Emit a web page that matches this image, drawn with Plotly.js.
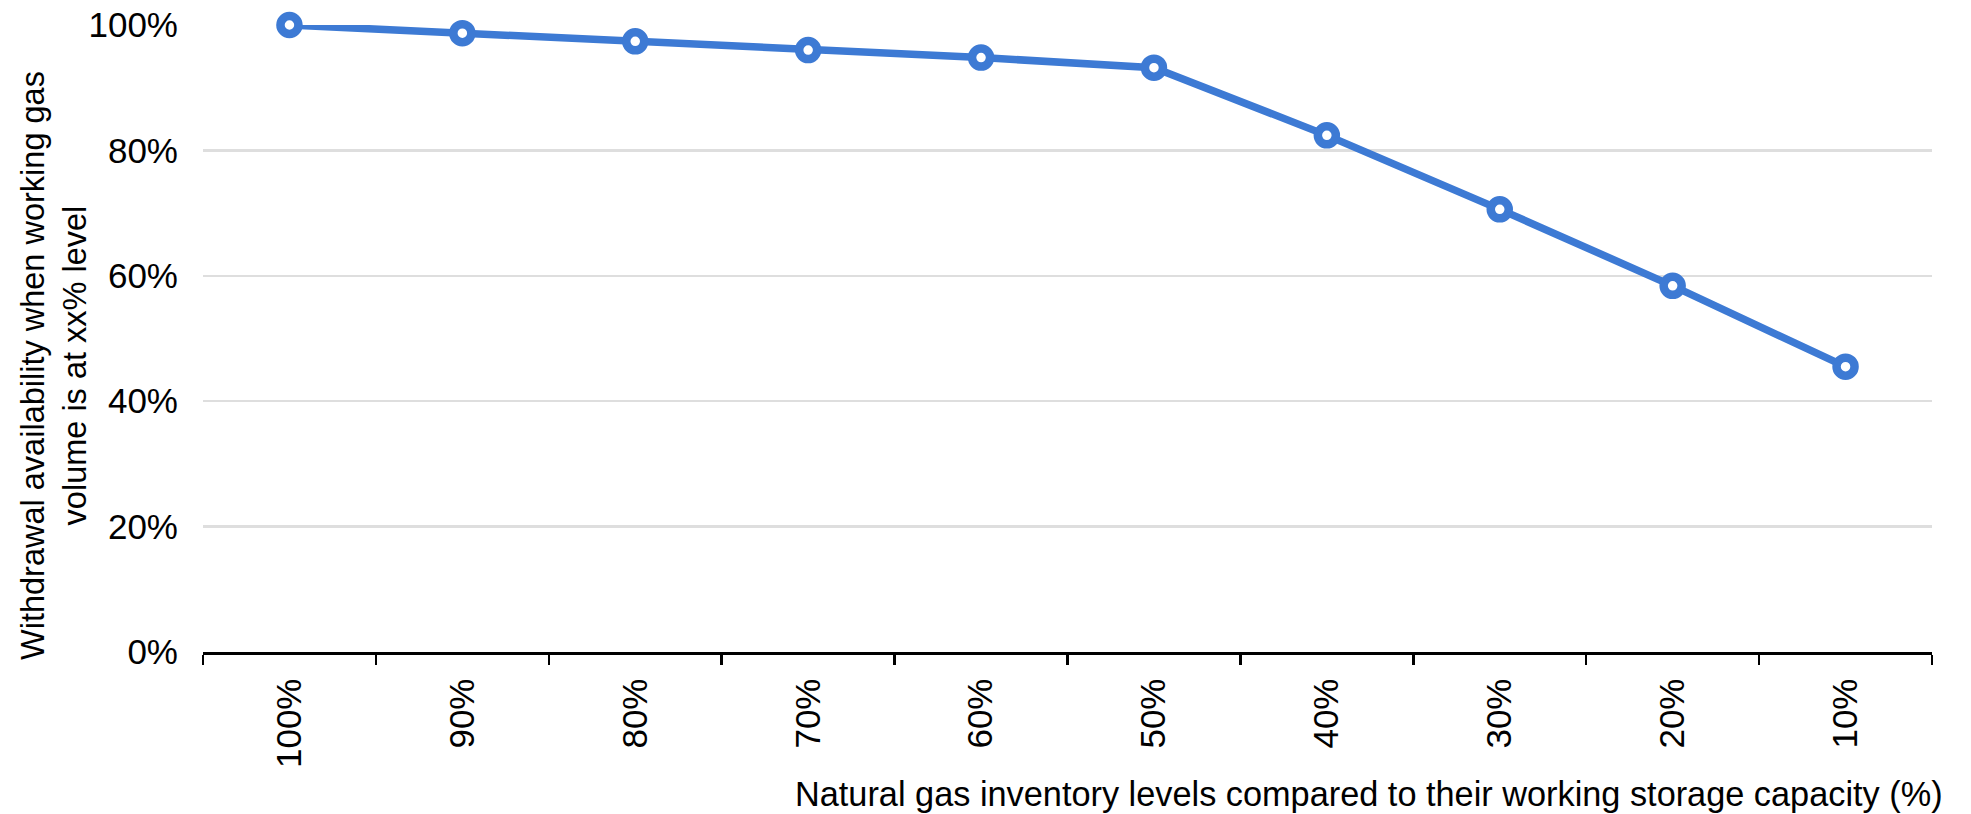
<!DOCTYPE html>
<html>
<head>
<meta charset="utf-8">
<script src="https://cdn.plot.ly/plotly-3.0.1.min.js"></script>
<style>
  html, body { margin: 0; padding: 0; background: #fff; }
  #chart { width: 1971px; height: 814px; }
</style>
</head>
<body>
<div id="chart"></div>
<script>
const inventoryLevels = ["100%", "90%", "80%", "70%", "60%", "50%", "40%", "30%", "20%", "10%"];
const withdrawalAvailability = [100, 98.7, 97.4, 96.0, 94.8, 93.2, 82.4, 70.6, 58.4, 45.5];
const yTickValues = [0, 20, 40, 60, 80, 100];
const yTitleText = "Withdrawal availability when working gas<br>volume is at xx% level";
const xTitleText = "Natural gas inventory levels compared to their working storage capacity (%)";

const blue = "#3d7ad4";
const fontFamily = "Liberation Sans, Arial, sans-serif";

const trace = {
  type: "scatter",
  mode: "lines+markers",
  x: inventoryLevels,
  y: withdrawalAvailability,
  line: { color: blue, width: 7.5 },
  marker: { symbol: "circle", size: 18, color: "#ffffff", line: { color: blue, width: 8.5 } },
  cliponaxis: false,
  hoverinfo: "skip"
};

const layout = {
  width: 1971,
  height: 814,
  margin: { l: 203, r: 39, t: 25, b: 162 },
  paper_bgcolor: "#ffffff",
  plot_bgcolor: "#ffffff",
  showlegend: false,
  font: { family: fontFamily, size: 34, color: "#000000" },
  xaxis: {
    type: "category",
    range: [-0.5, 9.5],
    showgrid: false,
    zeroline: false,
    showline: true,
    linecolor: "#000000",
    linewidth: 2.5,
    ticks: "outside",
    tickson: "boundaries",
    ticklen: 10,
    tickwidth: 2.5,
    tickcolor: "#000000",
    tickangle: -90,
    ticklabelstandoff: 10,
    tickfont: { family: fontFamily, size: 35, color: "#000000" },
    fixedrange: true
  },
  yaxis: {
    range: [0, 100],
    tickvals: yTickValues,
    ticktext: yTickValues.map(v => v + "%"),
    showgrid: true,
    gridcolor: "#dedede",
    gridwidth: 2.5,
    zeroline: false,
    showline: false,
    ticks: "",
    ticklabelstandoff: 24,
    tickfont: { family: fontFamily, size: 35, color: "#000000" },
    fixedrange: true
  },
  annotations: [
    {
      text: yTitleText,
      xref: "paper", yref: "paper",
      x: -0.0862, y: 0.4577,
      xanchor: "center", yanchor: "middle",
      textangle: -90,
      showarrow: false,
      font: { family: fontFamily, size: 32.5, color: "#000000" }
    },
    {
      text: xTitleText,
      xref: "paper", yref: "paper",
      x: 1, y: -0.2265,
      xanchor: "right", yanchor: "middle",
      xshift: 13,
      showarrow: false,
      font: { family: fontFamily, size: 34.3, color: "#000000" }
    }
  ]
};

Plotly.newPlot("chart", [trace], layout, { displayModeBar: false, staticPlot: true });
</script>
</body>
</html>
